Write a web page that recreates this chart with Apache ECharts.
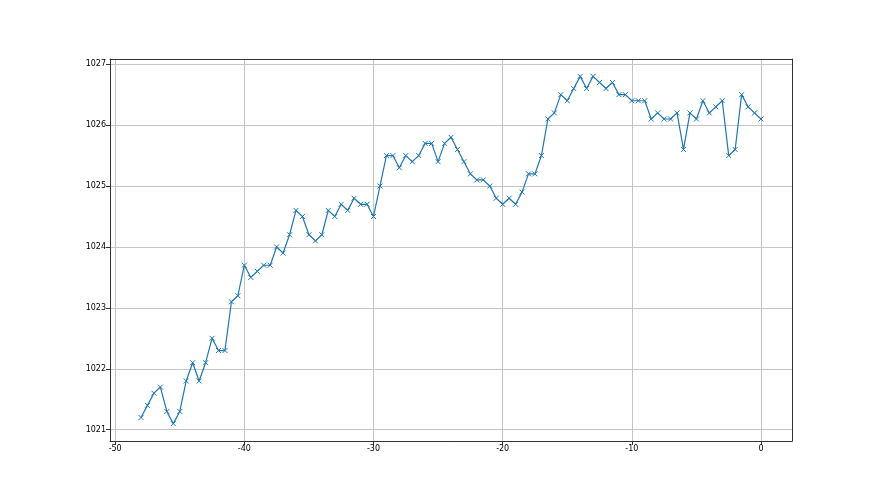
<!DOCTYPE html>
<html>
<head>
<meta charset="utf-8">
<script src="https://cdn.jsdelivr.net/npm/echarts@6/dist/echarts.min.js"></script>
<style>
  html, body { margin: 0; padding: 0; background: #fff; }
  #chart { width: 880px; height: 495px; }
</style>
</head>
<body>
<div id="chart"></div>
<script>
// hours before now, every half hour
const hours = [];
for (let i = 0; i <= 96; i++) hours.push(-48 + i * 0.5);

// pressure readings (hPa)
const pressure = [
  1021.2, 1021.4, 1021.6, 1021.7, 1021.3, 1021.1, 1021.3, 1021.8, 1022.1, 1021.8,
  1022.1, 1022.5, 1022.3, 1022.3, 1023.1, 1023.2, 1023.7, 1023.5, 1023.6, 1023.7,
  1023.7, 1024.0, 1023.9, 1024.2, 1024.6, 1024.5, 1024.2, 1024.1, 1024.2, 1024.6,
  1024.5, 1024.7, 1024.6, 1024.8, 1024.7, 1024.7, 1024.5, 1025.0, 1025.5, 1025.5,
  1025.3, 1025.5, 1025.4, 1025.5, 1025.7, 1025.7, 1025.4, 1025.7, 1025.8, 1025.6,
  1025.4, 1025.2, 1025.1, 1025.1, 1025.0, 1024.8, 1024.7, 1024.8, 1024.7, 1024.9,
  1025.2, 1025.2, 1025.5, 1026.1, 1026.2, 1026.5, 1026.4, 1026.6, 1026.8, 1026.6,
  1026.8, 1026.7, 1026.6, 1026.7, 1026.5, 1026.5, 1026.4, 1026.4, 1026.4, 1026.1,
  1026.2, 1026.1, 1026.1, 1026.2, 1025.6, 1026.2, 1026.1, 1026.4, 1026.2, 1026.3,
  1026.4, 1025.5, 1025.6, 1026.5, 1026.3, 1026.2, 1026.1
];

const xTicks = [-50, -40, -30, -20, -10, 0];
const yTicks = [1021, 1022, 1023, 1024, 1025, 1026, 1027];

const xRange = [-50.4, 2.4];
const yRange = [1020.815, 1027.085];

const chart = echarts.init(document.getElementById('chart'), null, { renderer: 'canvas' });

const labelFont = { color: '#000', fontSize: 8, fontFamily: 'DejaVu Sans', formatter: v => String(v) };
const frame = { show: true, onZero: false, lineStyle: { color: '#333', width: 1 } };

const option = {
  animation: false,
  grid: { left: 110, right: 88, top: 59, bottom: 54 },
  xAxis: [{
    type: 'value',
    min: xRange[0], max: xRange[1],
    axisLine: frame,
    axisTick: { show: true, inside: false, length: 4, lineStyle: { color: '#333' }, customValues: xTicks },
    axisLabel: Object.assign({ margin: 4, customValues: xTicks }, labelFont),
    splitLine: { show: true, lineStyle: { color: '#c4c4c4', width: 1 } }
  }, {
    type: 'value', position: 'top',
    min: xRange[0], max: xRange[1],
    axisLine: frame, axisTick: { show: false }, axisLabel: { show: false }, splitLine: { show: false }
  }],
  yAxis: [{
    type: 'value',
    position: 'left',
    min: yRange[0], max: yRange[1],
    axisLine: frame,
    axisTick: { show: true, inside: false, length: 4, lineStyle: { color: '#333' }, customValues: yTicks },
    axisLabel: Object.assign({ margin: 4, customValues: yTicks }, labelFont),
    splitLine: { show: true, lineStyle: { color: '#c4c4c4', width: 1 } }
  }, {
    type: 'value', position: 'right',
    min: yRange[0], max: yRange[1],
    axisLine: frame, axisTick: { show: false }, axisLabel: { show: false }, splitLine: { show: false }
  }],
  series: [{
    type: 'line',
    data: hours.map((h, i) => [h, pressure[i]]),
    symbol: 'path://M0,0L10,10M10,0L0,10',
    symbolSize: 5,
    showAllSymbol: true,
    lineStyle: { color: '#1f77b4', width: 1.2 },
    itemStyle: { color: 'rgba(0,0,0,0)', borderColor: '#1f77b4', borderWidth: 1 },
    z: 3
  }]
};

chart.setOption(option);
</script>
</body>
</html>
